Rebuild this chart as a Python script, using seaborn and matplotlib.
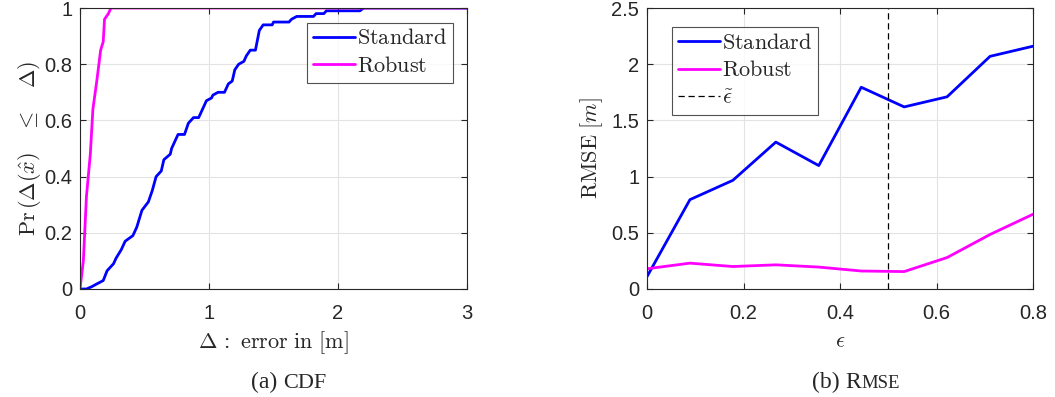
import numpy as np
import pandas as pd
import matplotlib
matplotlib.use("Agg")
import matplotlib.pyplot as plt
import seaborn as sns
from matplotlib.lines import Line2D

# ---------------- data ----------------
cdf_std_x = [0, 0.05, 0.09, 0.13, 0.18, 0.21, 0.26, 0.28, 0.32, 0.35, 0.41, 0.44, 0.48, 0.53,
             0.56, 0.59, 0.63, 0.65, 0.70, 0.71, 0.76, 0.81, 0.84, 0.88, 0.92, 0.98, 1.02, 1.03,
             1.07, 1.12, 1.15, 1.18, 1.20, 1.23, 1.27, 1.29, 1.32, 1.36, 1.39, 1.42, 1.49, 1.50,
             1.62, 1.64, 1.68, 1.81, 1.83, 1.89, 1.91, 2.17, 2.20, 3.0]
cdf_std_y = [0, 0, 0.008, 0.018, 0.03, 0.065, 0.09, 0.11, 0.14, 0.17, 0.19, 0.22, 0.28, 0.31,
             0.35, 0.40, 0.42, 0.46, 0.48, 0.50, 0.55, 0.55, 0.59, 0.61, 0.61, 0.67, 0.68, 0.69,
             0.70, 0.70, 0.73, 0.74, 0.78, 0.80, 0.81, 0.83, 0.85, 0.85, 0.92, 0.94, 0.94, 0.95,
             0.95, 0.96, 0.97, 0.97, 0.98, 0.98, 0.99, 0.99, 1.0, 1.0]
cdf_rob_x = [0, 0.026, 0.05, 0.08, 0.10, 0.13, 0.16, 0.18, 0.19, 0.22, 0.24, 3.0]
cdf_rob_y = [0, 0.10, 0.33, 0.48, 0.64, 0.74, 0.85, 0.88, 0.96, 0.98, 1.0, 1.0]

eps = [0, 0.089, 0.178, 0.267, 0.356, 0.444, 0.533, 0.622, 0.711, 0.8]
rmse_std = [0.11, 0.795, 0.967, 1.307, 1.098, 1.795, 1.62, 1.71, 2.07, 2.16]
rmse_rob = [0.18, 0.23, 0.20, 0.215, 0.195, 0.16, 0.155, 0.28, 0.485, 0.665]
eps_tilde = 0.5

series_names = ["Standard", "Robust"]
colors = {"Standard": "#0000ff", "Robust": "#ff00ff"}

cdf_df = pd.concat([
    pd.DataFrame({"x": cdf_std_x, "y": cdf_std_y, "method": "Standard"}),
    pd.DataFrame({"x": cdf_rob_x, "y": cdf_rob_y, "method": "Robust"}),
], ignore_index=True)
rmse_df = pd.concat([
    pd.DataFrame({"eps": eps, "rmse": rmse_std, "method": "Standard"}),
    pd.DataFrame({"eps": eps, "rmse": rmse_rob, "method": "Robust"}),
], ignore_index=True)

# ---------------- style ----------------
sns.set_theme(style="white")
plt.rcParams["font.family"] = ["Liberation Sans", "DejaVu Sans"]
plt.rcParams["mathtext.fontset"] = "cm"

fig = plt.figure(figsize=(10.55, 3.97), dpi=100)
W, H = 1055, 397
ax1 = fig.add_axes([80 / W, 1 - 289 / H, 387 / W, 281 / H])
ax2 = fig.add_axes([647 / W, 1 - 289 / H, 386 / W, 281 / H])

tick_color = "#262626"
lw = 2.0
lab_fs = 16

sns.lineplot(data=cdf_df, x="x", y="y", hue="method", palette=colors, hue_order=series_names,
             estimator=None, sort=False, units="method", lw=lw, legend=False, ax=ax1)
sns.lineplot(data=rmse_df, x="eps", y="rmse", hue="method", palette=colors, hue_order=series_names,
             estimator=None, sort=False, lw=lw, legend=False, ax=ax2)
ax2.axvline(eps_tilde, color="black", lw=0.9, ls=(0, (5, 3)))

for ax in (ax1, ax2):
    ax.grid(True, color="#e3e3e3", lw=0.8)
    ax.set_axisbelow(True)
    for s in ax.spines.values():
        s.set_color(tick_color)
        s.set_linewidth(0.8)
        s.set_visible(True)
    ax.tick_params(direction="in", length=4, width=0.8, colors=tick_color, labelsize=14.5,
                   top=True, right=True, bottom=True, left=True)
    ax.tick_params(axis="x", pad=11)
    ax.tick_params(axis="y", pad=5.5)

ax1.set_xlim(0, 3)
ax1.set_ylim(0, 1)
ax1.set_xticks([0, 1, 2, 3])
ax1.set_yticks([0, 0.2, 0.4, 0.6, 0.8, 1])
ax1.set_yticklabels(["0", "0.2", "0.4", "0.6", "0.8", "1"])
ax1.set_xlabel(r"$\Delta\,:\ \mathrm{error\ in\ [m]}$", fontsize=lab_fs, color=tick_color, labelpad=4)
ax1.set_ylabel(r"$\mathrm{Pr}\,(\Delta(\hat{x})\quad\leq\quad\Delta)$", fontsize=lab_fs,
               color=tick_color, labelpad=1)

ax2.set_xlim(0, 0.8)
ax2.set_ylim(0, 2.5)
ax2.set_xticks([0, 0.2, 0.4, 0.6, 0.8])
ax2.set_xticklabels(["0", "0.2", "0.4", "0.6", "0.8"])
ax2.set_yticks([0, 0.5, 1, 1.5, 2, 2.5])
ax2.set_yticklabels(["0", "0.5", "1", "1.5", "2", "2.5"])
ax2.set_xlabel(r"$\epsilon$", fontsize=lab_fs, color=tick_color, labelpad=6)
ax2.set_ylabel(r"$\mathrm{RMSE}\ [m]$", fontsize=lab_fs, color=tick_color, labelpad=5)

h1 = [Line2D([], [], color=colors[n], lw=lw) for n in series_names]
lab1 = [r"$\mathrm{%s}$" % n for n in series_names]
leg_kw = dict(borderaxespad=0, fontsize=16, frameon=True, fancybox=False, handlelength=1.9,
              handletextpad=0.1, borderpad=0.25, labelspacing=0.3)
leg1 = ax1.legend(h1, lab1, loc="upper right", bbox_to_anchor=(0.964, 0.947), **leg_kw)
leg1.get_frame().set_edgecolor(tick_color)
leg1.get_frame().set_linewidth(0.8)

h2 = h1 + [Line2D([], [], color="black", lw=0.9, ls=(0, (5, 3)))]
lab2 = lab1 + [r"$\tilde{\epsilon}$"]
leg2 = ax2.legend(h2, lab2, loc="upper left", bbox_to_anchor=(0.065, 0.932), **leg_kw)
leg2.get_frame().set_edgecolor(tick_color)
leg2.get_frame().set_linewidth(0.8)

# captions (small caps emulated by smaller capitals), laid out by measured widths
serif = ["Liberation Serif", "DejaVu Serif"]
cap_base = 1 - 388 / H


def caption(parts, center_px, gap_px):
    texts = [fig.text(0, cap_base, s, fontsize=fs, family=serif, va="baseline", ha="left")
             for s, fs, _ in parts]
    fig.canvas.draw()
    r = fig.canvas.get_renderer()
    widths = [t.get_window_extent(r).width for t in texts]
    gaps = [g * gap_px for _, _, g in parts]
    total = sum(widths) + sum(gaps)
    x = center_px - total / 2
    for t, w, g in zip(texts, widths, gaps):
        x += g
        t.set_x(x / W)
        x += w


caption([("(a)", 17, 0), ("CDF", 16, 1)], 289, 6)
caption([("(b)", 17, 0), ("R", 17, 1), ("MSE", 13.5, 0)], 856, 6)

fig.savefig("out.png", dpi=100)
